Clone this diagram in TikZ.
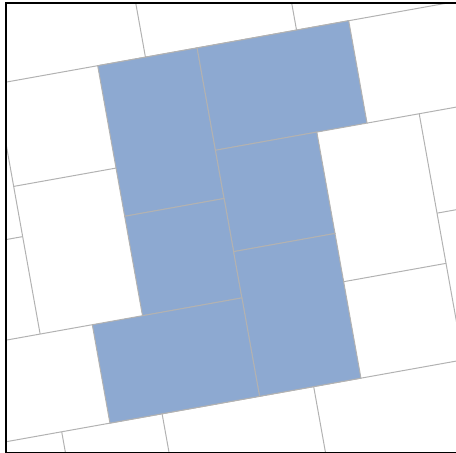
\documentclass[tikz,border=0pt]{standalone}
\definecolor{tileblue}{RGB}{141,169,209}
\definecolor{gridgray}{RGB}{178,178,178}
\tikzset{
  tile/.style={fill=tileblue, draw=gridgray, line width=1pt},
  gridline/.style={draw=gridgray, line width=1pt},
  frameline/.style={draw=black, line width=2pt}
}
\begin{document}
\begin{tikzpicture}[x=1pt,y=1pt]
\useasboundingbox (0,0) rectangle (456,453);
\begin{scope}
\clip (6,0) rectangle (470,450);
\begin{scope}[shift={(97.7,387.3)}, rotate=10.16]
  % grid lines of the white tiles
  \draw[gridline] (-300,0) -- (450,0);
  \draw[gridline] (-300,-354) -- (450,-354);
  \draw[gridline] (48.5,0) -- (48.5,200);
  \draw[gridline] (202,0) -- (202,200);
  \draw[gridline] (-104,0) -- (-104,-254);
  \draw[gridline] (-104,-104) -- (0,-104);
  \draw[gridline] (-300,-155) -- (-104,-155);
  \draw[gridline] (-300,-254) -- (-51,-254);
  \draw[gridline] (-100,-354) -- (-100,-600);
  \draw[gridline] (2,-354) -- (2,-600);
  \draw[gridline] (156,-354) -- (156,-600);
  \draw[gridline] (255,-104) -- (450,-104);
  \draw[gridline] (308,-104) -- (308,-354);
  \draw[gridline] (308,-205) -- (450,-205);
  \draw[gridline] (204,-256) -- (308,-256);
  % blue tiles
  \path[tile] (0,0) rectangle (101,-153);
  \path[tile] (101,0) rectangle (255,-104);
  \path[tile] (101,-104) rectangle (204,-207);
  \path[tile] (0,-153) rectangle (101,-254);
  \path[tile] (101,-207) rectangle (204,-354);
  \path[tile] (-51,-254) rectangle (101,-354);
\end{scope}
\end{scope}
\begin{scope}
\clip (0,0) rectangle (456,453);
\draw[frameline] (6,0) rectangle (470,450);
\end{scope}
\end{tikzpicture}
\end{document}
